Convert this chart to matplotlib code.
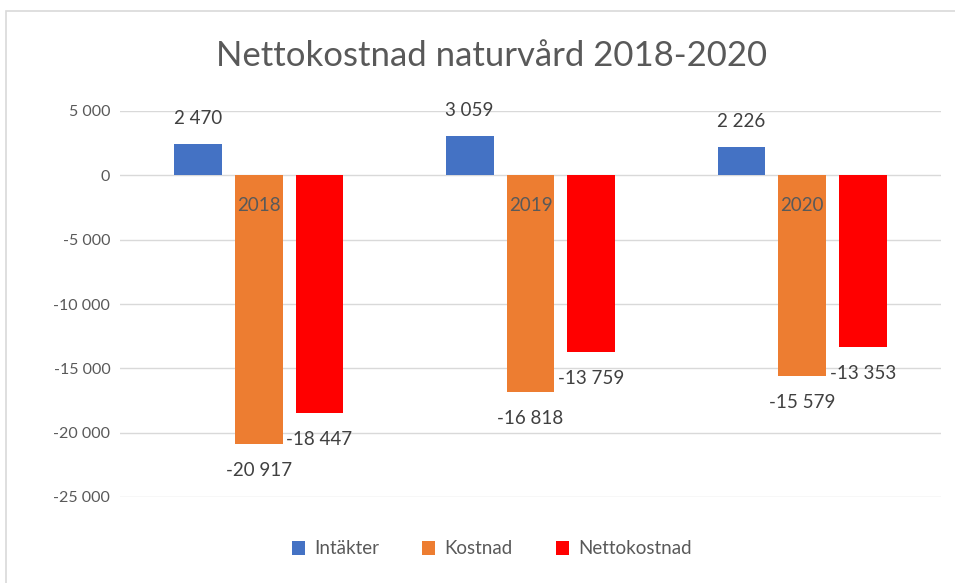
import numpy as np
import matplotlib.pyplot as plt
from matplotlib.patches import Rectangle
from matplotlib.ticker import FuncFormatter

years = ['2018', '2019', '2020']
series = ['Intäkter', 'Kostnad', 'Nettokostnad']
intakter = [2470, 3059, 2226]
kostnad = [-20917, -16818, -15579]
netto = [-18447, -13759, -13353]
colors = ['#4472C4', '#ED7D31', '#FF0000']
yticks = [5000, 0, -5000, -10000, -15000, -20000, -25000]

txt = '#595959'
plt.rcParams['font.family'] = ['Lato', 'DejaVu Sans']

def sv(v, pos=None):
    # swedish style thousands separator
    s = f'{abs(int(v)):,}'.replace(',', ' ')
    return ('-' if v < 0 else '') + s

fig = plt.figure(figsize=(9.55, 5.83), dpi=100)
fig.patches.append(Rectangle((6/955, -0.1), 1.1, 1 - 11/583 + 0.1, transform=fig.transFigure,
                             fill=False, edgecolor='#D9D9D9', linewidth=1.2))
ax = fig.add_axes([120/955, 1 - 497/583, 821/955, 386/583])

x = np.arange(len(years))
w = 0.176
step = 0.224
for i, (name, vals) in enumerate(zip(series, [intakter, kostnad, netto])):
    pos = x + (i - 1) * step
    ax.bar(pos, vals, w, color=colors[i], label=name, zorder=2)
    for px, v in zip(pos, vals):
        off = 18 if v > 0 else -19
        ax.annotate(sv(v), (px, v), xytext=(0, off), textcoords='offset points',
                    ha='center', va='center', fontsize=13.5, color='#404040', zorder=4)

# category labels sit on the zero line, over the bars
for xi, yr in zip(x, years):
    ax.annotate(yr, (xi, 0), xytext=(0, -22), textcoords='offset points',
                ha='center', va='center', fontsize=13.5, color=txt, zorder=5)

ax.set_ylim(-25000, 5000)
ax.set_xlim(-0.51, 2.51)
ax.set_yticks(yticks)
ax.yaxis.set_major_formatter(FuncFormatter(sv))
ax.grid(axis='y', color='#D9D9D9', linewidth=1, zorder=0)
ax.set_axisbelow(True)

ax.set_xticks([])
for s in ['top', 'right', 'left', 'bottom']:
    ax.spines[s].set_visible(False)
ax.tick_params(axis='y', length=0, pad=7, labelsize=11.5, labelcolor=txt)

fig.text(0.515, 1 - 56/583, 'Nettokostnad naturvård 2018-2020', ha='center', va='center',
         fontsize=25, color=txt)

ax.legend(loc='center', bbox_to_anchor=(0.515, 1 - 549/583), bbox_transform=fig.transFigure,
          ncol=3, frameon=False, fontsize=13.5, labelcolor=txt, handlelength=0.7,
          handleheight=0.7, columnspacing=2.3, handletextpad=0.5)

fig.savefig('out.png', dpi=100)
